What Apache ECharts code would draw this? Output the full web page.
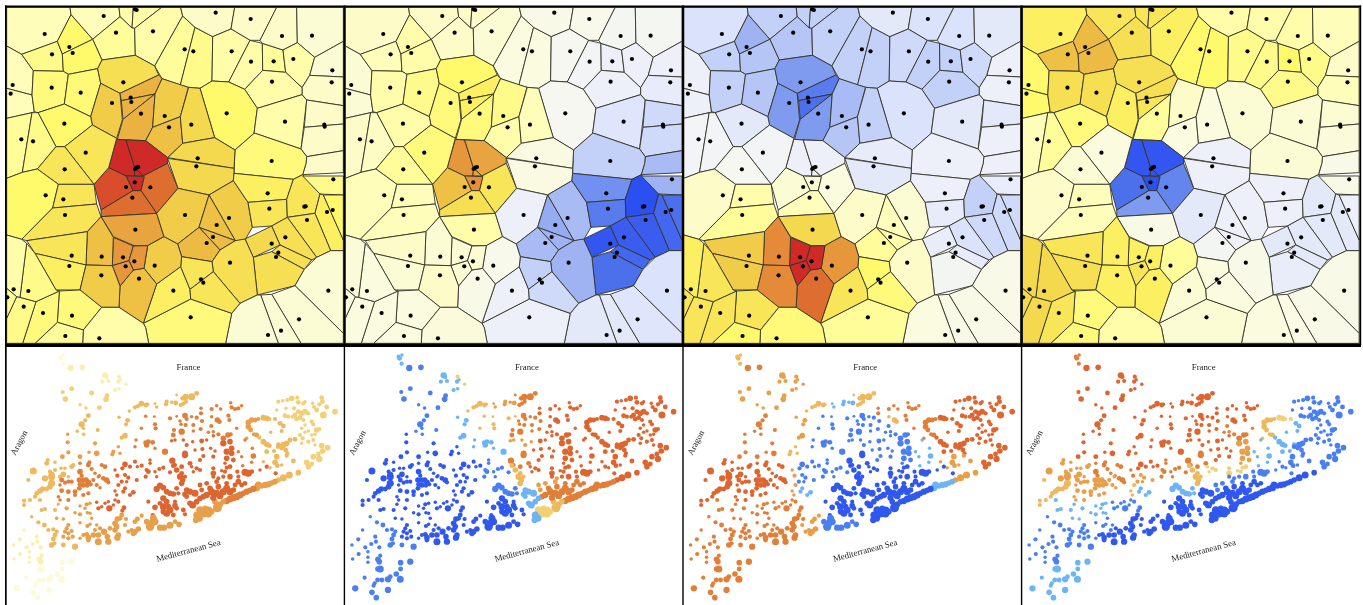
<!DOCTYPE html>
<html>
<head>
<meta charset="utf-8">
<script src="https://cdn.jsdelivr.net/npm/echarts@6/dist/echarts.min.js"></script>
<style>
html, body { margin: 0; padding: 0; background: #fff; }
#chart { width: 1363px; height: 605px; }
</style>
</head>
<body>
<div id="chart"></div>
<script>
// voronoi cells: value in each of the 4 maps, then polygon x,y,x,y...
const cells = [
[2.5,2,-2,5.5, 20,22,210,22,213,44,172,124,65,163,20,138],
[2.5,2,-3,6, 210,22,357,22,360,50,278,118,213,44],
[3,2,-3,6, 357,22,400,22,396,84,360,50],
[3,2,-3,6, 400,22,485,22,404,85,396,84],
[3.5,2,-3.5,6.5, 360,50,396,84,404,85,406,166,306,180,278,118],
[3,1.5,-3,5.5, 485,22,542,22,548,48,464,198,406,166,404,85],
[3.5,1,-3,5, 548,48,585,82,541,255,486,236,464,198],
[4,1,-3,5, 585,82,638,110,636,243,600,265,566,262,541,255],
[2,.5,-1.5,3, 542,22,704,22,693,87,638,110,585,82,548,48],
[2,.3,-2,3, 704,22,830,22,780,121,750,121,693,87],
[3,0,-2.5,4, 638,110,693,87,750,121,686,246,636,243],
[3,-.5,-3,4, 750,121,787,130,788,211,734,268,686,246],
[3.5,-1,-3,5, 787,130,849,150,857,217,788,211],
[2,-.2,-2,3, 830,22,890,22,892,128,849,150,787,130,780,121],
[1.5,-.2,-1.5,2.5, 890,22,1030,22,1030,124,944,172,892,128],
[3,-1,-2.5,4, 892,128,944,172,929,226,906,263,857,217,849,150],
[1.5,-1,-1,2, 944,172,1030,124,1030,231,929,226],
[2,-1.3,-1,2.5, 929,226,1030,231,1030,317,920,300,906,284,906,263],
[3,-1,-3,4, 788,211,857,217,906,263,906,284,772,325,734,268],
[5,0,-2,1.5, 636,243,686,246,734,268,772,325,762,400,705,450,644,413,600,265],
[3,-1.8,-1.5,1.5, 772,325,906,284,920,300,903,447,766,400,762,400],
[2,-2.5,-1.5,1.5, 920,300,1030,317,1030,372,913,382],
[2,-2.5,-1,1.2, 913,382,1030,372,1030,452,920,470,903,447],
[2,-4,-1,.5, 920,470,1030,452,1030,518,908,524,918,490],
[4.5,-3,-1,1.5, 766,400,903,447,920,470,918,490,908,524,880,538,702,520,705,450,762,400],
[2.5,1.5,-1,5, 20,138,65,163,100,212,96,285,20,265],
[2.5,1.5,-1,5, 20,265,96,285,103,335,96,338,20,355],
[4,2.5,-3,8, 65,163,172,124,187,162,190,214,100,212],
[5,3,-4.5,8.2, 172,124,213,44,278,118,187,162],
[5,3,-3.5,8.2, 187,162,278,118,306,180,293,206,205,223,190,214],
[4.5,3,-3,6.5, 100,212,190,214,205,223,193,312,114,338,103,335,96,285],
[4.7,4,-3.5,6.5, 205,223,293,206,302,250,272,350,193,312],
[6.5,5,-6,6.5, 306,180,406,166,464,198,476,225,360,280,302,250,293,206],
[7.5,4.5,-6,5.5, 302,250,360,280,367,360,350,415,277,375,272,350],
[8.5,5.5,-7.5,6.5, 360,280,476,225,486,236,465,282,364,302],
[8.5,5.5,-8,6, 364,302,465,282,369,358],
[8.5,4.5,-6,3.5, 465,282,458,382,437,422,352,418,369,358],
[7.5,4,-4,2, 486,236,565,262,541,350,458,382,465,282],
[8,3,-3.5,1, 458,382,541,350,548,430,503,473,437,422],
[7,2.5,-3,1, 566,262,600,265,644,413,548,430,541,350],
[13,9.5,-1,-9.5, 350,418,378,420,405,505,403,528,378,528,326,503],
[13,9,-1,-9.5, 378,420,437,422,503,473,503,490,430,528,405,505],
[13,9,-1,-9.5, 405,505,430,528,403,528],
[13,9.8,1.5,-10, 378,528,433,530,423,572,399,572],
[12,8,1.5,-8, 326,503,378,528,399,572,303,630,282,553],
[11,6,1,-7, 503,490,534,565,470,640,423,572,433,530,430,528],
[11,6.5,2.5,-6, 399,572,423,572,470,640,303,650,303,630],
[7,.8,-1.3,-1, 503,473,548,430,644,413,705,450,702,505],
[7,.8,-1.5,-1, 503,475,702,505,702,520,700,542,627,585,534,565],
[5,3,-1.5,4.5, 114,338,193,312,272,350,277,375,194,440,168,440],
[6,4.5,-.5,1, 277,375,350,415,326,503,282,553,194,440],
[3.5,2,-.5,2.5, 20,355,96,338,67,517,20,535],
[4,2.2,-.5,3.5, 96,338,114,338,168,440,112,507,67,517],
[6,3.5,0,1.5, 168,440,194,440,282,553,175,553,112,507],
[5,2.5,2,2, 20,535,67,517,112,507,175,553,158,624,65,718,20,705],
[6,2.5,3,2.5, 175,553,282,553,290,612,158,624],
[6,2.5,3.5,2.5, 158,624,290,612,303,650,262,695,80,722,65,718],
[9,3,7,.5, 303,650,470,640,492,710,443,737,402,737,340,710],
[7.5,-1,2,-1.5, 470,640,534,565,627,585,597,682,533,732,492,710],
[7.5,-4,1.5,-1, 627,585,700,542,744,607,757,682,735,720,706,722],
[8,-5,2.5,-1, 627,585,706,722,597,682],
[8.2,-4.5,3,-.8, 597,682,706,722,660,750],
[8.2,-4,3.5,-.3, 597,682,660,750,636,785,545,770,533,732],
[5.5,-6.5,-1,-1, 702,520,880,538,860,598,744,607,700,542],
[6,-7.5,-1.3,-1, 744,607,860,598,862,652,815,678,757,682],
[6,-10,-3,-1.5, 880,538,908,524,960,582,945,640,862,652,860,598],
[4,-4.5,-1.2,.5, 908,528,1030,528,1030,585,960,582],
[5.5,-8.5,-2.5,-1.5, 960,582,970,585,1030,720,1030,752,992,752,945,640],
[5,-8,-2.5,-1, 970,585,1030,585,1030,720],
[6,-9,-2.5,-1.5, 862,652,945,640,992,752,950,772],
[6.5,-9,-2,-1.5, 815,678,862,652,950,772,935,780,840,735],
[7,-9.5,-1.2,-1.5, 735,717,815,678,840,735,760,772],
[6.5,-8.5,-1.3,-1.5, 840,735,935,780,913,808,815,755],
[6.5,-8,-.3,-1.2, 760,772,815,755,913,808,885,857,772,885],
[6.5,-4.5,2,.5, 660,750,706,722,735,717,760,772,772,885,720,910,640,815,636,785],
[1.5,-2,.5,.5, 885,857,913,808,950,772,992,752,1030,752,1030,1000],
[1.5,-1.8,.5,.5, 815,883,885,857,1030,1000,1030,1030,903,1030],
[1.5,-1.5,.5,.7, 782,885,815,883,903,1030,835,1030],
[1.5,-1.5,1,1, 720,910,772,885,782,885,835,1030,677,1030,695,940],
[4.5,-1,3.5,1.5, 430,970,572,897,695,940,677,1030,446,1030,437,983],
[5.5,-1,6,1.5, 470,852,542,800,570,868,572,897,430,970],
[6,-3,5,1, 545,770,636,785,640,815,570,868,542,800],
[6,-2.5,4.5,1, 570,868,640,815,720,910,695,940,572,897],
[7.5,.3,9.5,3.5, 443,737,492,710,533,732,545,770,542,800,470,852,432,805],
[8,.5,11,5.5, 400,810,432,805,470,852,430,970,357,922,360,858],
[9.5,1.5,13,5.5, 340,712,400,738,387,782,337,797],
[9.5,1.5,13,5.5, 400,738,443,737,432,805,400,810,387,782],
[9.5,1.5,13,6, 337,797,387,782,400,810,360,858],
[8,1.5,10,5.5, 262,695,303,650,340,712,337,797,258,795],
[6,2,7.5,6, 80,722,262,695,258,795,105,760],
[5.5,1.5,7.5,6.5, 105,760,258,795,240,870,168,870],
[7.5,2,10,5.5, 258,795,337,797,360,858,357,922,305,922,240,870],
[4.5,1,6,4.5, 240,870,305,922,250,990,172,967,178,873],
[3,1.2,4.5,3, 305,922,357,922,430,970,437,983,446,1030,248,1030,250,990],
[3.5,1,5,4.5, 172,967,250,990,248,1030,105,1030],
[4.5,1,6,6, 108,905,178,873,172,967,105,1030,68,1030],
[4,1,6,7, 50,890,60,892,108,905,68,1030,20,1030,20,955],
[4,1,6,7, 80,730,105,760,168,870,178,873,108,905,60,892],
[3,1.3,5.5,7, 20,705,65,718,80,730,60,892,50,890,20,865],
[3.5,1,6,7, 20,865,50,890,20,955]
]

const cellDots = [[134,102],[311,48],[405,28],[410,30],[348,98],[459,94],[554,148],[580,154],[647,38],[752,57],[695,154],[753,185],[821,184],[846,108],[936,107],[880,177],[997,211],[995,247],[816,245],[680,340],[855,365],[973,374],[974,380],[815,483],[38,255],[32,281],[156,163],[208,141],[218,159],[155,263],[242,278],[370,247],[336,309],[392,293],[394,306],[423,341],[494,348],[507,382],[574,374],[405,507],[410,503],[415,501],[404,547],[378,561],[451,562],[397,593],[593,475],[589,499],[193,371],[257,458],[64,418],[99,424],[194,508],[137,586],[190,598],[195,645],[406,689],[555,645],[687,654],[650,675],[639,711],[620,729],[803,580],[808,626],[913,620],[917,619],[1000,538],[981,636],[998,630],[921,660],[856,712],[815,731],[835,758],[828,771],[690,788],[985,872],[897,958],[843,992],[804,1005],[572,952],[520,872],[603,838],[610,848],[464,797],[417,836],[369,772],[403,784],[377,799],[305,770],[215,767],[208,798],[304,826],[216,947],[298,1015],[196,1008],[129,939],[71,920],[85,873],[41,868],[22,892]]

// scatter towns by region: [x, y, size]
const farNW = [[183,40,3.5],[190,30,2.5],[180,35,3],[189,56,3]]
const farNW2 = [[212,69,4.5],[247,67,4]]
const chainNW = [[315,91,4.5],[320,96,3],[361,104,2.5],[355,110,3],[307,110,3],[325,108,3],[345,135,3],[357,131,2.5]]
const chainNWb = [[357,95,3],[378,118,2.5]]
const chainNW3 = [[215,131,3.5],[188,141,3],[275,144,3.5],[196,162,4],[321,152,3.5],[318,163,4],[240,179,2.5],[258,189,2.5],[298,188,3.5]]
const ridgeA = [[405,187,3],[414,183,3],[424,176,4],[438,180,3.5],[443,178,2.5],[388,198,2.5]]
const ridgeB = [[465,176,2],[470,186,2.5],[500,170,3],[498,178,3],[515,172,2.5],[527,174,3.5]]
const ridgeC = [[530,150,2],[542,180,3],[550,176,3],[558,170,3],[548,160,3.5],[557,156,4.5],[575,155,5],[590,145,3.5]]
const upperW = [[265,212,3.5],[245,238,4.5],[256,226,3],[250,250,2.5],[232,259,2.5],[251,268,2.5],[293,255,3]]
const upperW2 = [[357,217,2.5],[383,226,3.5],[378,238,3],[375,272,4],[365,278,3]]
const upperM = [[437,214,2.5],[463,215,2],[465,238,3],[467,250,3],[424,250,2.5],[510,220,3],[530,214,2]]
const upperM2 = [[540,228,2.5],[555,212,4],[560,222,3],[575,215,2.5],[590,218,3],[543,238,2.5],[557,240,3],[580,240,3],[545,260,4.5],[522,255,3],[520,270,3.5],[606,228,3],[602,252,3],[580,258,2.5]]
const upperE = [[603,190,2.5],[603,205,3],[635,192,3],[650,182,2.5],[662,192,2.5],[692,173,2.5],[695,187,3],[705,192,3],[715,190,3],[725,182,2.5],[685,212,3],[688,225,3]]
const upperE2 = [[635,215,2.5],[652,225,4],[658,230,3.5]]
const upperE3 = [[634,243,3],[640,260,2.5],[625,262,2.5],[655,268,3],[670,280,4],[684,270,4],[692,268,3]]
const upperE4 = [[710,250,2.5]]
const eastRidge = [[745,232,4],[755,225,4],[765,225,3.5],[775,222,3],[745,245,4],[752,255,3.5],[770,270,3.5],[762,268,3],[740,280,2.5]]
const eastRidge2 = [[790,218,4],[800,220,4],[808,222,3],[825,222,3]]
const eastRidge3 = [[790,290,4],[800,298,4],[808,302,3.5],[835,298,3],[840,235,3.5],[850,243,3.5],[845,258,3],[778,278,3],[812,262,2.5],[822,318,3],[800,320,3.5]]
const northEast = [[855,212,3.5],[865,215,3],[835,170,3],[848,167,2.5],[862,165,3],[875,160,4],[892,158,3],[858,190,2.5],[830,195,2.5],[882,190,3],[895,172,3.5],[910,175,3],[915,170,2.5],[938,175,2.5],[942,186,3],[950,195,3.5],[965,158,3.5],[967,170,3.5],[958,178,3],[885,210,3.5],[895,200,3.5],[905,205,4],[915,200,4],[925,205,3],[900,218,3.5],[890,222,3.5],[878,215,3],[910,225,3],[935,230,3],[940,238,3],[915,240,2.5],[905,250,2.5],[925,258,2.5],[915,262,2.5],[900,270,3],[935,270,2.5],[945,268,2.5],[908,280,3],[905,295,2.5],[925,290,3],[940,285,3],[945,300,2.5]]
const northEast2 = [[950,255,4],[958,252,3],[965,302,4],[983,308,4],[968,318,4],[955,327,3.5],[940,335,4],[958,342,4.5],[920,352,4],[935,357,3.5],[925,365,4],[1005,200,4],[970,210,5],[980,186,3.5]]
const northEast3 = [[885,283,3.5],[870,285,3.5],[860,295,4],[850,300,4.5],[835,305,3.5],[845,310,3],[857,315,3.5],[862,325,3]]
const northEast4 = [[880,348,3.5],[860,332,3],[830,335,4],[825,352,4],[832,362,3.5],[845,360,2.5],[810,368,2.5],[790,350,2.5]]
const centralA = [[437,293,3.5],[445,290,3.5],[458,292,3.5],[408,285,2.5],[405,305,2.5],[465,310,2.5],[440,300,4],[495,320,4.5]]
const centralB = [[355,305,2.5],[340,320,3],[337,328,3],[360,325,2.5]]
const centralC = [[290,325,4],[285,295,3],[267,322,2.5],[240,335,3.5],[203,268,2.5],[203,292,3],[205,322,3],[187,335,3.5]]
const centralD = [[515,287,2.5],[525,285,2.5],[550,285,2.5],[560,300,3],[578,290,2.5]]
const centralE = [[555,330,4.5],[555,325,4],[517,347,4.5],[525,360,3],[545,365,3.5],[570,355,3.5]]
const centralF = [[600,345,3],[610,333,3],[585,315,2.5],[607,312,3],[605,288,3.5],[620,285,2.5],[640,272,2.5],[645,318,2.5],[640,335,3],[632,310,2.5]]
const centralG = [[670,295,4.5],[690,290,4],[695,310,4],[680,320,4.5],[695,325,4],[680,340,4],[700,345,3.5],[675,355,2.5]]
const centralH = [[715,320,2.5],[735,285,2.5],[757,310,2.5],[760,333,4],[755,352,2.5],[725,335,2.5],[728,362,2.5]]
const centralI = [[640,370,3],[640,385,4],[665,377,2.5],[675,380,3],[680,368,3],[690,365,3.5],[600,375,3],[580,380,2.5],[590,370,3],[575,365,2.5]]
const centralJ = [[640,395,3],[670,395,3],[690,395,4],[712,380,3],[715,395,3],[735,382,5],[745,385,5],[755,380,3.5],[780,375,2.5],[800,365,3],[827,385,3]]
const coastA = [[895,383,4],[868,390,5],[850,398,5],[835,405,4]]
const coastB = [[825,410,4],[815,414,4],[805,418,4.5],[795,420,4.5],[785,423,4],[775,420,5],[770,428,5]]
const coastC = [[760,432,4.5],[750,436,4],[740,440,4.5],[730,445,4],[720,450,5],[710,455,5],[700,458,5],[690,462,5],[680,468,4.5]]
const coastD = [[670,470,4],[660,478,4.5],[652,488,6.5],[645,470,4]]
const coastE = [[625,498,6.5],[610,505,6],[600,495,5.5],[625,505,6],[615,490,4],[635,500,4]]
const coastF = [[590,510,5],[598,520,5],[588,525,4.5]]
const coreA = [[640,458,4.5],[650,445,5],[660,452,5],[670,440,5],[680,430,5],[690,440,5],[700,435,4],[705,420,3.5],[715,410,4],[725,420,3.5],[735,415,3.5],[680,415,3.5],[655,425,4],[635,440,5],[630,430,4],[620,450,4.5],[610,455,4]]
const coreB = [[600,460,4],[590,470,4],[578,480,5],[570,475,4],[585,445,5],[570,440,4.5],[560,435,4],[555,448,4],[560,455,3.5]]
const coreC = [[605,435,3.5],[600,420,3.5],[620,415,3.5],[650,410,3.5],[655,400,3]]
const coreD = [[545,415,4],[548,405,4],[540,395,4.5],[530,375,4],[545,385,3.5],[555,395,3],[520,362,3.5]]
const coreE = [[510,382,3],[490,368,3],[478,372,3],[465,380,2.5],[470,395,2.5],[445,380,3.5],[440,375,3],[450,355,2.5],[450,345,2.5],[437,395,3]]
const midA = [[480,422,4.5],[470,432,4.5],[490,428,4],[500,440,4],[510,445,4],[520,447,4],[530,430,3.5],[535,445,3]]
const midB = [[490,460,4.5],[500,470,4],[490,485,5],[480,475,3.5],[505,485,4],[510,495,5],[525,482,4],[530,490,3.5],[500,505,5],[490,500,4],[520,510,3.5],[550,495,3.5],[525,470,3],[555,508,3],[445,470,3],[465,487,4],[458,510,3]]
const shoreA = [[460,520,5],[465,530,5],[455,535,5],[450,545,6],[440,530,4],[480,548,4.5],[492,548,4.5],[510,541,5],[525,530,3.5],[537,538,4]]
const shoreB = [[425,512,3],[412,522,3.5],[405,530,3.5],[415,552,4],[405,560,4],[395,555,3],[400,565,4],[385,560,3],[375,540,3]]
const shoreC = [[360,520,3.5],[352,522,4],[345,535,4],[350,545,4],[345,555,4],[355,570,4],[352,578,4.5],[378,522,3],[365,510,3.5]]
const westA = [[328,490,4.5],[315,475,2.5],[305,485,2.5],[295,490,3],[290,472,2.5],[325,470,2.5],[345,465,2.5],[355,470,3],[372,488,3.5],[367,497,3],[340,480,2.5]]
const westB = [[400,442,3.5],[390,450,3],[375,430,3],[370,440,3]]
const westC = [[350,450,2.5],[345,438,2.5],[355,420,3]]
const westD = [[365,410,3],[385,398,3],[375,390,3],[410,405,3],[380,410,2.5]]
const westE = [[352,392,3],[345,375,2.5]]
const westF = [[425,362,3],[405,350,3],[412,365,2.5],[390,365,3],[375,358,4],[367,370,3]]
const westG = [[320,405,4],[310,400,3.5],[325,412,3],[315,365,3.5],[305,360,3],[298,392,2.5],[285,385,2.5],[275,372,3],[265,360,3.5],[268,352,3],[240,355,2.5],[240,380,4],[245,392,3]]
const leftA = [[143,345,3],[140,355,3.5],[165,352,2.5],[183,370,2.5],[165,375,3],[150,380,3],[100,378,5],[155,390,4.5],[155,395,5],[135,400,4.5],[195,370,2.5],[215,365,3.5],[220,360,3],[190,388,4],[180,395,3],[205,395,2.5]]
const leftB = [[238,405,4],[248,405,4],[258,405,4],[265,412,4],[240,418,3.5],[250,420,4],[262,422,3],[272,418,3],[215,410,3],[205,410,3],[195,413,3],[185,405,3.5],[180,420,2.5],[280,405,3],[295,395,2.5]]
const leftC = [[155,415,5],[150,425,4],[140,432,3.5],[128,432,4],[120,438,4],[110,445,3.5],[105,455,3],[85,405,3],[90,465,3],[72,467,3],[72,480,3]]
const leftD = [[120,465,3],[125,495,3],[135,492,3],[175,478,2.5],[165,495,3]]
const leftE = [[185,437,3.5],[205,440,3.5],[225,440,3.5],[238,430,3.5],[250,450,3],[225,450,3],[265,445,3],[290,420,3],[300,428,2.5],[175,455,2.5],[180,465,2.5],[205,465,3]]
const leftF = [[200,490,3],[240,483,2.5],[260,478,3],[270,475,2.5],[255,490,2.5],[262,503,2.5],[270,505,2.5],[240,508,3],[225,503,2.5],[190,522,2.5],[170,520,2.5]]
const leftG = [[205,540,3],[200,550,3],[195,560,3],[205,565,3],[215,558,3],[190,575,3],[205,580,3],[218,575,3],[240,580,2.5],[240,533,2.5],[262,543,3],[270,538,2.5],[285,555,3],[290,540,2.5],[275,520,2.5]]
const leftH = [[250,570,3],[260,568,3.5],[265,578,4],[265,585,3.5],[280,570,4],[295,570,4],[295,590,5],[312,560,4.5],[322,575,4],[325,590,4.5],[300,550,3],[330,550,3.5]]
const southA = [[95,515,2.5],[115,532,3],[133,540,3.5],[145,555,3],[160,553,3],[170,560,3],[165,570,3.5],[160,582,3.5],[155,600,4],[163,595,3],[190,600,3.5],[225,605,4.5]]
const southB = [[72,555,2.5],[110,575,3],[98,597,3],[112,590,3],[59,583,3],[40,600,2.5],[80,607,3],[122,607,3],[88,620,2.5],[60,627,3],[42,642,2.5],[88,637,2.5],[88,652,2.5],[125,632,3],[118,643,4],[122,650,4]]
const southC = [[125,672,5],[118,672,4],[215,650,4.5],[186,653,4],[186,672,3.5],[173,687,4],[155,695,3.5],[148,703,4.5],[130,705,3.5],[117,705,3.5],[108,715,3],[105,722,3],[78,698,3],[185,703,5],[148,735,4.5],[100,742,4],[113,758,4],[50,730,4.5]]

// colour class of each region in the 4 maps (hex digit into pointColors)
const regionClasses = [
[farNW,'0835'],[farNW2,'1956'],[chainNW,'1846'],[chainNWb,'1246'],[chainNW3,'2946'],
[ridgeA,'3336'],[ridgeB,'3486'],[ridgeC,'3536'],[upperW,'3956'],[upperW2,'3846'],
[upperM,'5396'],[upperM2,'5596'],[upperE,'5656'],[upperE2,'5636'],[upperE3,'5695'],[upperE4,'5655'],
[eastRidge,'4653'],[eastRidge2,'3662'],[eastRidge3,'3668'],[northEast,'2669'],[northEast2,'2669'],
[northEast3,'3669'],[northEast4,'3649'],[centralA,'5896'],[centralB,'4a36'],[centralC,'4a56'],
[centralD,'6496'],[centralE,'65a5'],[centralF,'6696'],[centralG,'6694'],[centralH,'5688'],
[centralI,'66a2'],[centralJ,'66a9'],[coastA,'364a'],[coastB,'458a'],[coastC,'55aa'],[coastD,'43aa'],
[coastE,'42aa'],[coastF,'48aa'],[coreA,'65aa'],[coreB,'68aa'],[coreC,'64a9'],[coreD,'63a3'],
[coreE,'6995'],[midA,'69a8'],[midB,'6aaa'],[shoreA,'4a9a'],[shoreB,'4a4a'],[shoreC,'4a5a'],
[westA,'6a59'],[westB,'6a88'],[westC,'6a43'],[westD,'6a94'],[westE,'6a45'],[westF,'6a96'],[westG,'5a65'],
[leftA,'3a64'],[leftB,'5a64'],[leftC,'3a63'],[leftD,'3a58'],[leftE,'5a64'],[leftF,'4a58'],[leftG,'4a59'],
[leftH,'4a5a'],[southA,'3959'],[southB,'1959'],[southC,'0958']
]

const pointColors = ['#fbfbdc','#f8efb0','#f2d076','#eeb95e','#e79f4a','#e17f38','#dc6530','#b9e6f8','#6db4f6','#4a7ff2','#3158ee']
// map value -10..13 to fill
const cellColors = ['#2b4ff0','#3a5df0','#4c70ec','#6485ee','#7f9bf0','#95abf2','#a8bbf4','#c3d0f8','#dbe2fb','#edf0f9','#f6f7f0','#fbfbe0','#fdfcc8','#fffdaa','#fffb8a','#fff96c','#f8e658','#f4d84e','#eec044','#e8a43e','#e48a38','#de6e30','#d84e2c','#d02a28']

const panelStep = 338.6
const pointScale = 1.4
const grids = [], xAxes = [], yAxes = [], series = []

for (let p = 0; p < 4; p++) {
  // top map
  grids.push({ left: 6.67 + p * panelStep, top: 7.33, width: 336.67, height: 336 })
  xAxes.push({ type: 'value', gridIndex: p * 2, min: 20, max: 1030, show: false })
  yAxes.push({ type: 'value', gridIndex: p * 2, min: 22, max: 1030, inverse: true, show: false })
  // bottom map
  grids.push({ left: p * panelStep, top: 345, width: 345, height: 260 })
  xAxes.push({ type: 'value', gridIndex: p * 2 + 1, min: 0, max: 1035, show: false })
  yAxes.push({ type: 'value', gridIndex: p * 2 + 1, min: 0, max: 780, inverse: true, show: false })

  series.push({
    type: 'custom',
    xAxisIndex: p * 2,
    yAxisIndex: p * 2,
    silent: true,
    data: cells.map((c, i) => [c[4], c[5], i]),
    renderItem: (params, api) => {
      const c = cells[api.value(2)]
      const points = []
      for (let k = 4; k < c.length; k += 2) points.push(api.coord([c[k], c[k + 1]]))
      return {
        type: 'polygon',
        shape: { points },
        style: { fill: echarts.color.lerp((c[p] + 10) / 23, cellColors), stroke: '#333328', lineWidth: 0.9 }
      }
    }
  })
  series.push({
    type: 'scatter',
    xAxisIndex: p * 2,
    yAxisIndex: p * 2,
    silent: true,
    symbolSize: 4.2,
    itemStyle: { color: '#000', opacity: 1 },
    z: 5,
    data: cellDots
  })

  const pts = []
  regionClasses.forEach(([list, code]) => {
    const cls = parseInt(code[p], 16)
    list.forEach(d => pts.push([d[0], d[1], d[2], cls]))
  })
  series.push({
    type: 'scatter',
    xAxisIndex: p * 2 + 1,
    yAxisIndex: p * 2 + 1,
    silent: true,
    symbolSize: d => d[2] * pointScale,
    itemStyle: { opacity: 1, color: params => pointColors[params.value[3]] },
    data: pts
  })
}

const graphics = []
const bar = (x, y, w, h, fill) => graphics.push({ type: 'rect', z: 100, shape: { x, y, width: w, height: h }, style: { fill: fill || '#000' } })
const label = (text, x, y, deg) => graphics.push({
  type: 'text', z: 100, x, y, rotation: deg * Math.PI / 180,
  style: { text, fill: '#222', font: '8.8px "Liberation Serif", serif', align: 'center', verticalAlign: 'middle' }
})

bar(5, 5.5, 1356, 2)
bar(5, 343.5, 1356, 3.5)
bar(5, 5.5, 1.7, 600)
bar(1359.5, 5.5, 1.7, 340)
for (let p = 1; p < 4; p++) {
  bar(5.3 + p * panelStep - 0.5, 5.5, 2, 340)
  bar(5.3 + p * panelStep - 0.2, 345, 1.4, 260)
}
for (let p = 0; p < 4; p++) {
  const dx = p * panelStep
  label('France', 188.5 + dx - p * 0.2, 368, 0)
  label('Aragon', 19.5 + dx - p * 0.2, 443, 62)
  label('Mediterranean Sea', 188.5 + dx - p * 0.2, 551, 15)
}

const chart = echarts.init(document.getElementById('chart'), null, { renderer: 'canvas' })
chart.setOption({
  animation: false,
  backgroundColor: '#fff',
  grid: grids,
  xAxis: xAxes,
  yAxis: yAxes,
  series,
  graphic: graphics
})
</script>
</body>
</html>
